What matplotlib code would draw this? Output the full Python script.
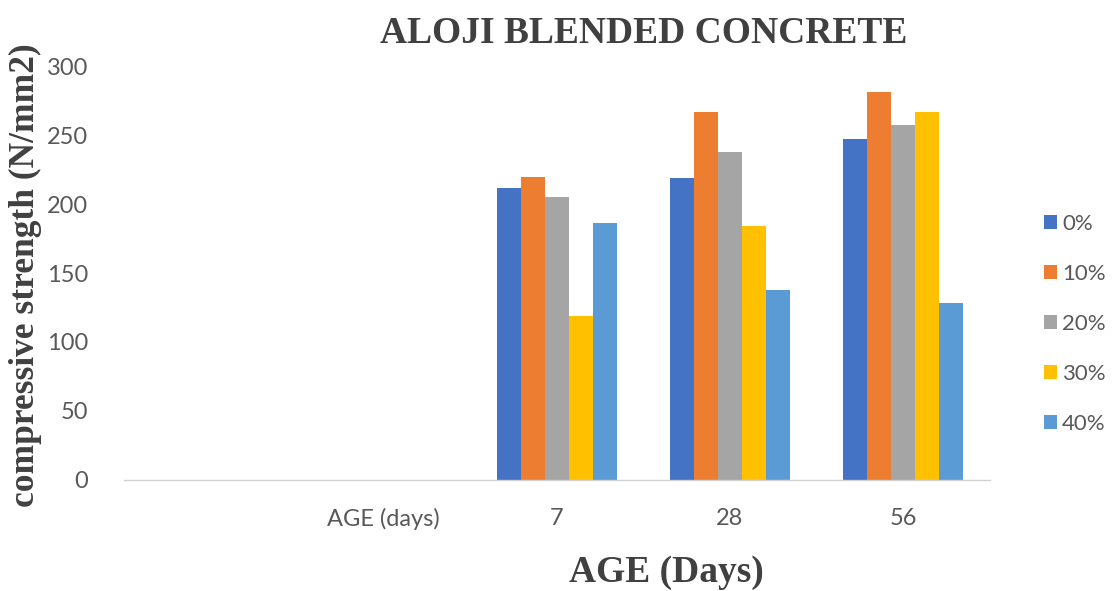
import matplotlib
matplotlib.use("Agg")
import matplotlib.pyplot as plt
import numpy as np

categories = ["", "AGE (days)", "7", "28", "56"]
series_names = ["0%", "10%", "20%", "30%", "40%"]
# values per series for each category (first two categories are empty)
s0 = [np.nan, np.nan, 212, 219, 247]
s10 = [np.nan, np.nan, 220, 267, 281]
s20 = [np.nan, np.nan, 205, 238, 257]
s30 = [np.nan, np.nan, 119, 184, 267]
s40 = [np.nan, np.nan, 186, 138, 128]
series_values = [s0, s10, s20, s30, s40]
colors = ["#4472C4", "#ED7D31", "#A5A5A5", "#FFC000", "#5B9BD5"]
yticks = [0, 50, 100, 150, 200, 250, 300]

fig = plt.figure(figsize=(11.17, 5.91), dpi=100)
ax = fig.add_axes([0.111, 0.188, 0.775, 0.700])

x = np.arange(len(categories))
bw = 0.139
n = len(series_names)
for i, (name, vals, c) in enumerate(zip(series_names, series_values, colors)):
    offs = (i - (n - 1) / 2) * bw
    ax.bar(x + offs, vals, width=bw, color=c, label=name, linewidth=0)

ax.set_xlim(-0.5, len(categories) - 0.5)
ax.set_ylim(0, 300)
ax.set_yticks(yticks)
ax.set_xticks(x)
ax.set_xticklabels(categories)

tick_family = ["Lato", "DejaVu Sans"]
for lab in ax.get_yticklabels() + ax.get_xticklabels():
    lab.set_fontfamily(tick_family)
    lab.set_fontsize(17)
    lab.set_color("#595959")

ax.tick_params(axis="both", length=0)
ax.tick_params(axis="y", pad=26)
ax.tick_params(axis="x", pad=20)
for side in ["top", "right", "left"]:
    ax.spines[side].set_visible(False)
ax.spines["bottom"].set_color("#D0D0D0")
ax.spines["bottom"].set_linewidth(1.0)

fig.text(0.576, 0.944, "ALOJI BLENDED CONCRETE", ha="center", va="center",
         family="Liberation Serif", weight="bold", size=27, color="#404040")
fig.text(0.597, 0.032, "AGE (Days)", ha="center", va="center",
         family="Liberation Serif", weight="bold", size=27, color="#404040")
fig.text(0.023, 0.535, "compressive strength (N/mm2)", ha="center", va="center",
         rotation=90, family="Liberation Serif", weight="bold", size=25.5,
         color="#404040")

leg = ax.legend(loc="center left", bbox_to_anchor=(1.04, 0.377), frameon=False,
                handlelength=0.55, handleheight=0.55, handletextpad=0.25,
                labelspacing=1.35, prop={"family": "Lato", "size": 16})
for t in leg.get_texts():
    t.set_color("#595959")

fig.savefig("out.png", dpi=100, facecolor="white")
